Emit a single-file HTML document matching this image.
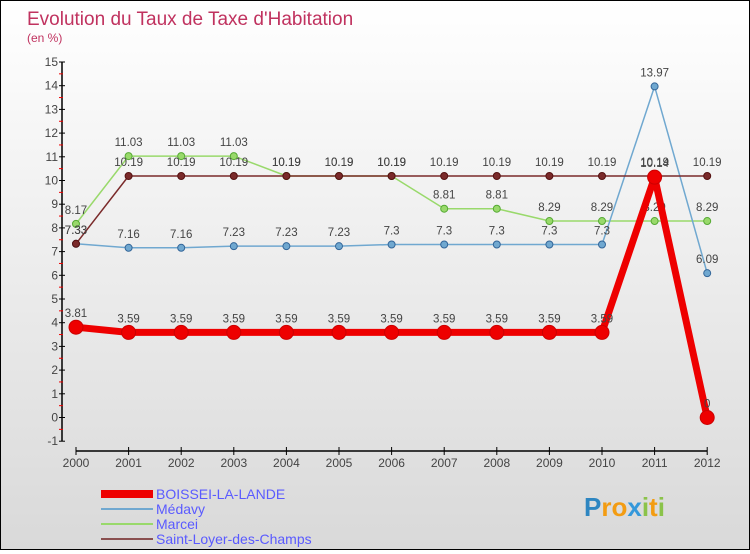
<!DOCTYPE html>
<html><head><meta charset="utf-8"><style>
body{margin:0}
#c{width:748px;height:548px;border:1px solid #000;background:linear-gradient(#fff,#d9d9d9);position:relative;font-family:"Liberation Sans",sans-serif}
svg text{font-family:"Liberation Sans",sans-serif}
</style></head><body>
<div id="c">
<svg id="s" width="748" height="548">
<text x="26" y="24" font-size="19" fill="#c0325f">Evolution du Taux de Taxe d'Habitation</text>
<text x="26" y="41" font-size="12" fill="#c0325f">(en %)</text>
</svg></div>
<script>
const years=[2000,2001,2002,2003,2004,2005,2006,2007,2008,2009,2010,2011,2012];
const boissei=[3.81,3.59,3.59,3.59,3.59,3.59,3.59,3.59,3.59,3.59,3.59,10.14,0];
const medavy=[7.33,7.16,7.16,7.23,7.23,7.23,7.3,7.3,7.3,7.3,7.3,13.97,6.09];
const marcei=[8.17,11.03,11.03,11.03,10.19,10.19,10.19,8.81,8.81,8.29,8.29,8.29,8.29];
const saint=[7.33,10.19,10.19,10.19,10.19,10.19,10.19,10.19,10.19,10.19,10.19,10.19,10.19];
const yTicks=[-1,0,1,2,3,4,5,6,7,8,9,10,11,12,13,14,15];
const s=document.getElementById('s'),NS='http://www.w3.org/2000/svg';
const X=i=>75+i*52.6, Y=v=>416.5-v*23.7;
function el(t,a,p){const e=document.createElementNS(NS,t);for(const k in a)e.setAttribute(k,a[k]);(p||s).appendChild(e);return e;}
let ax=el('line',{x1:61,y1:Y(15),x2:61,y2:Y(-1),stroke:'#000','stroke-width':1.5});

yTicks.forEach(v=>{el('line',{x1:58,x2:64,y1:Y(v),y2:Y(v),stroke:'#000'});
 if(v<15)el('line',{x1:58,x2:62,y1:Y(v+0.5),y2:Y(v+0.5),stroke:'#e00'});
 const t=el('text',{x:57,y:Y(v)+4,'font-size':12,fill:'#444','text-anchor':'end'});t.textContent=v;
 });
let xa=el('line',{x1:X(0),x2:X(12),y1:450,y2:450,stroke:'#000','stroke-width':1.5});

years.forEach((y,i)=>{el('line',{x1:X(i),x2:X(i),y1:446,y2:454,stroke:'#000'});
 const t=el('text',{x:X(i),y:466,'font-size':12,fill:'#444','text-anchor':'middle'});t.textContent=y;
 });
function series(d,col,w,r,name,dark){
 const g=el('g',{});
 el('polyline',{points:d.map((v,i)=>X(i)+','+Y(v)).join(' '),fill:'none',stroke:col,'stroke-width':w,'stroke-linejoin':'round'},g);
 d.forEach((v,i)=>{const c=el('circle',{cx:X(i),cy:Y(v),r:r,fill:col,stroke:dark,'stroke-width':1},g);
  
  const t=el('text',{x:X(i),y:Y(v)-10,'font-size':11.5,fill:'#444','text-anchor':'middle'},g);t.textContent=v;});
}
series(marcei,'#99d96b',1.5,3.5,'marcei','#5a3');
series(medavy,'#70a8d0',1.5,3.5,'medavy','#369');
series(saint,'#7a2a2a',1.5,3.5,'saint-loyer','#511');
series(boissei,'#e00',7,7,'boissei','#c00');
const leg=[['BOISSEI-LA-LANDE','#e00',8],['Médavy','#70a8d0',2],['Marcei','#99d96b',2],['Saint-Loyer-des-Champs','#8a5050',2]];
leg.forEach((l,i)=>{const y=493+i*15;
 const g=el('g',{});
 el('line',{x1:100,x2:152,y1:y,y2:y,stroke:l[1],'stroke-width':l[2]},g);
 const t=el('text',{x:155,y:y+5,'font-size':14,fill:'#5a5aff'},g);t.textContent=l[0];});
const p=el('text',{x:583,y:515,'font-size':26,'font-weight':'bold'});

[['P','#2e86c1'],['ro','#f39c12'],['x','#3498db'],['i','#8bc34a'],['t','#f39c12'],['i','#8bc34a']].forEach(a=>{const sp=el('tspan',{fill:a[1]},p);sp.textContent=a[0];});
</script></body></html>
